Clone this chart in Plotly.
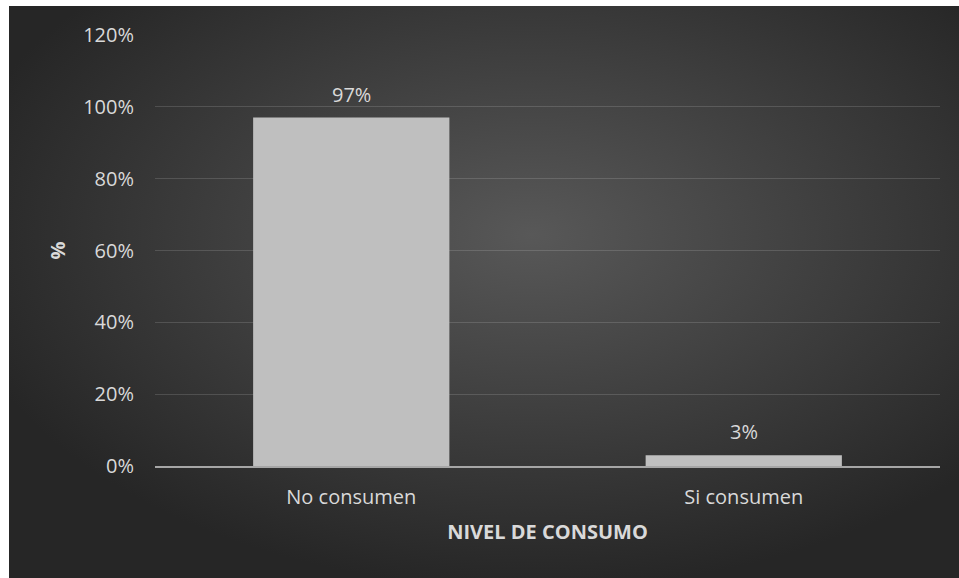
import plotly.graph_objects as go

categories = ["No consumen", "Si consumen"]
values = [0.97, 0.03]
labels = ["97%", "3%"]
y_ticks = [0, 0.2, 0.4, 0.6, 0.8, 1.0, 1.2]

W, H = 959, 578
L, R, T, B = 155, 19, 35, 112
pw, ph = W - L - R, H - T - B

svg = ("data:image/svg+xml;utf8,<svg xmlns='http://www.w3.org/2000/svg' width='950' height='572' "
       "preserveAspectRatio='none' viewBox='0 0 950 572'>"
       "<defs><radialGradient id='g' cx='55%25' cy='40%25' r='62%25'>"
       "<stop offset='0' stop-color='%23585858'/><stop offset='1' stop-color='%23262626'/>"
       "</radialGradient></defs><rect width='950' height='572' fill='url(%23g)'/></svg>")

font_fam = "Open Sans, Noto Sans, sans-serif"
txt_col = "#d9d9d9"

fig = go.Figure(go.Bar(
    x=categories, y=values,
    marker=dict(color="#bfbfbf", line=dict(width=0)),
))

for c, v, t in zip(categories, values, labels):
    fig.add_annotation(x=c, y=v, text=t, showarrow=False, yanchor="bottom",
                       yshift=8, font=dict(size=20, color=txt_col, family=font_fam))

fig.update_layout(
    width=W, height=H,
    margin=dict(l=L, r=R, t=T, b=B),
    paper_bgcolor="white",
    plot_bgcolor="rgba(0,0,0,0)",
    bargap=0.5,
    showlegend=False,
    font=dict(family=font_fam, color=txt_col),
    images=[dict(
        source=svg, xref="paper", yref="paper",
        x=(9 - L) / pw, y=(H - B - 6) / ph,
        sizex=(W - 9) / pw, sizey=(H - 6) / ph,
        sizing="stretch", xanchor="left", yanchor="top", layer="below",
    )],
    xaxis=dict(
        showline=True, linecolor="#a6a6a6", linewidth=2,
        showgrid=False, ticks="",
        ticklabelstandoff=12,
        tickfont=dict(size=20, color=txt_col),
        title=dict(text="<b>NIVEL DE CONSUMO</b>", font=dict(size=20, color=txt_col), standoff=16),
    ),
    yaxis=dict(
        range=[0, 1.2], tickvals=y_ticks, tickformat=".0%",
        showgrid=True, gridcolor="rgba(255,255,255,0.14)", gridwidth=1,
        zeroline=False, showline=False, ticks="",
        ticklabelstandoff=20,
        tickfont=dict(size=20, color=txt_col),
        title=dict(text="<b>%</b>", font=dict(size=20, color=txt_col), standoff=12),
    ),
)

fig.write_html("out.html")
